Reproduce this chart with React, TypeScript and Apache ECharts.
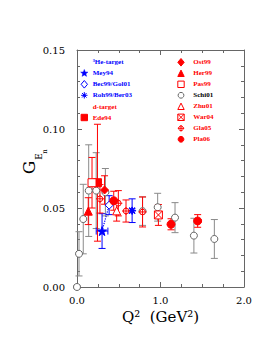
import React, { useEffect, useRef } from "react";
import * as echarts from "echarts";

// Axis ticks
const xTickLabels = ["0.0", "1.0", "2.0"];
const yTickLabels = ["0.00", "0.05", "0.10", "0.15"];

// [Q2, GEn, dGEn, dQ2]
const mey94 = [[0.3, 0.0354, 0.011, 0.07]];
const bec99 = [[0.385, 0.0518, 0.006]];
const roh99 = [[0.66, 0.0483, 0.0075]];
const ede94 = [[0.245, 0.066, 0.037]];
const ost99 = [[0.33, 0.0614, 0.009]];
const her99 = [[0.135, 0.048, 0.0085]];
const pas99 = [[0.18, 0.066, 0.016]];
const schi01 = [
  [0.0, 0.0, 0.001],
  [0.024, 0.021, 0.014],
  [0.075, 0.043, 0.022],
  [0.14, 0.061, 0.029],
  [0.23, 0.061, 0.024],
  [0.34, 0.06, 0.015],
  [0.785, 0.048, 0.009],
  [0.966, 0.0505, 0.0088],
  [1.174, 0.0439, 0.0095],
  [1.4, 0.0325, 0.011],
  [1.645, 0.0304, 0.0123],
];
const zhu01 = [[0.475, 0.0482, 0.0065]];
const war04 = [[0.975, 0.0456, 0.0066]];
const gla05 = [
  [0.275, 0.0558, 0.009],
  [0.495, 0.053, 0.008],
  [0.587, 0.0481, 0.007],
  [0.785, 0.0475, 0.0095],
];
const pla06 = [
  [0.44, 0.0546, 0.006],
  [1.126, 0.0397, 0.0035],
  [1.445, 0.0418, 0.004],
];
const golLink = [
  [0.3, 0.0354],
  [0.385, 0.0518],
];

// Legend layout (names)
const legendHe = ["Mey94", "Bec99/Gol01", "Roh99/Ber03"];
const legendD = ["Ede94"];
const legendRight = ["Ost99", "Her99", "Pas99", "Schi01", "Zhu01", "War04", "Gla05", "Pla06"];

const BLUE = "#0000ff";
const RED = "#ff0000";
const GREY = "#8a8a8a";

const STAR =
  "path://M50 0L61.76 33.82L97.55 34.55L69.02 56.18L79.39 90.45L50 70L20.61 90.45L30.98 56.18L2.45 34.55L38.24 33.82Z";
const ASTER =
  "path://M0 44H100V56H0ZM44 0H56V100H44ZM6 14L14 6L94 86L86 94ZM86 6L94 14L14 94L6 86ZM30 50A20 20 0 1 0 70 50A20 20 0 1 0 30 50Z";
const CROSSCIRC =
  "path://M15 50A35 35 0 1 0 85 50A35 35 0 1 0 15 50ZM50 0L50 100M0 50L100 50";
const XSQUARE = "path://M0 0H100V100H0ZM0 0L100 100M100 0L0 100";

type DS = {
  name: string;
  data: number[][];
  kind: string;
  symbol: string;
  size: number;
  color: string;
  fill: string;
  err: string;
  text: string;
  z: number;
};

const sets: DS[] = [
  { name: "Schi01", data: schi01, kind: "circle", symbol: "circle", size: 7, color: "#666", fill: "#fff", err: GREY, text: "#000", z: 2 },
  { name: "Mey94", data: mey94, kind: "star", symbol: STAR, size: 9, color: BLUE, fill: BLUE, err: BLUE, text: BLUE, z: 3 },
  { name: "Bec99/Gol01", data: bec99, kind: "diamond", symbol: "diamond", size: 8, color: BLUE, fill: "#fff", err: BLUE, text: BLUE, z: 3 },
  { name: "Roh99/Ber03", data: roh99, kind: "aster", symbol: ASTER, size: 7, color: BLUE, fill: BLUE, err: BLUE, text: BLUE, z: 3 },
  { name: "Ede94", data: ede94, kind: "rect", symbol: "rect", size: 8, color: RED, fill: RED, err: RED, text: RED, z: 3 },
  { name: "Ost99", data: ost99, kind: "diamond", symbol: "diamond", size: 8, color: RED, fill: RED, err: RED, text: RED, z: 3 },
  { name: "Her99", data: her99, kind: "triangle", symbol: "triangle", size: 8, color: RED, fill: RED, err: RED, text: RED, z: 3 },
  { name: "Pas99", data: pas99, kind: "rect", symbol: "rect", size: 8, color: RED, fill: "#fff", err: RED, text: RED, z: 3 },
  { name: "Zhu01", data: zhu01, kind: "triangle", symbol: "triangle", size: 8, color: RED, fill: "#fff", err: RED, text: RED, z: 3 },
  { name: "War04", data: war04, kind: "xsquare", symbol: XSQUARE, size: 8, color: RED, fill: "#fff", err: RED, text: RED, z: 3 },
  { name: "Gla05", data: gla05, kind: "crosscirc", symbol: CROSSCIRC, size: 8, color: RED, fill: "#fff", err: RED, text: RED, z: 3 },
  { name: "Pla06", data: pla06, kind: "circle", symbol: "circle", size: 8, color: RED, fill: RED, err: RED, text: RED, z: 4 },
];

const errRender = (color: string) => (params: any, api: any) => {
  const x = api.value(0);
  const y = api.value(1);
  const e = api.value(2);
  const xe = api.value(3);
  const top = api.coord([x, y + e]);
  const bot = api.coord([x, y - e]);
  const cap = 3.5;
  const style = { stroke: color, lineWidth: 1, fill: null };
  const children: any[] = [
    { type: "line", shape: { x1: top[0], y1: top[1], x2: bot[0], y2: bot[1] }, style },
    { type: "line", shape: { x1: top[0] - cap, y1: top[1], x2: top[0] + cap, y2: top[1] }, style },
    { type: "line", shape: { x1: bot[0] - cap, y1: bot[1], x2: bot[0] + cap, y2: bot[1] }, style },
  ];
  if (xe > 0) {
    const l = api.coord([x - xe, y]);
    const r = api.coord([x + xe, y]);
    children.push({ type: "line", shape: { x1: l[0], y1: l[1], x2: r[0], y2: r[1] }, style });
    children.push({ type: "line", shape: { x1: l[0], y1: l[1] - cap, x2: l[0], y2: l[1] + cap }, style });
    children.push({ type: "line", shape: { x1: r[0], y1: r[1] - cap, x2: r[0], y2: r[1] + cap }, style });
  }
  return { type: "group", children };
};

// Legend icon built from graphic primitives
const legendIcon = (s: DS, cx: number, cy: number): any[] => {
  const r = 3.2;
  const st = { fill: s.fill, stroke: s.color, lineWidth: 1 };
  const ln = { stroke: s.color, lineWidth: 1 };
  switch (s.kind) {
    case "circle":
      return [{ type: "circle", shape: { cx, cy, r: r * 0.9 }, style: st }];
    case "rect":
      return [{ type: "rect", shape: { x: cx - r, y: cy - r, width: 2 * r, height: 2 * r }, style: st }];
    case "diamond":
      return [{ type: "polygon", shape: { points: [[cx, cy - r - 0.6], [cx + r, cy], [cx, cy + r + 0.6], [cx - r, cy]] }, style: st }];
    case "triangle":
      return [{ type: "polygon", shape: { points: [[cx, cy - r], [cx + r, cy + r], [cx - r, cy + r]] }, style: st }];
    case "star": {
      const pts: number[][] = [];
      for (let k = 0; k < 10; k++) {
        const a = -Math.PI / 2 + (k * Math.PI) / 5;
        const rr = k % 2 === 0 ? r + 0.6 : (r + 0.6) * 0.42;
        pts.push([cx + rr * Math.cos(a), cy + rr * Math.sin(a)]);
      }
      return [{ type: "polygon", shape: { points: pts }, style: { fill: s.fill, stroke: s.color, lineWidth: 0.5 } }];
    }
    case "aster": {
      const out: any[] = [];
      for (let k = 0; k < 4; k++) {
        const a = (k * Math.PI) / 4;
        out.push({
          type: "line",
          shape: { x1: cx - r * Math.cos(a), y1: cy - r * Math.sin(a), x2: cx + r * Math.cos(a), y2: cy + r * Math.sin(a) },
          style: ln,
        });
      }
      out.push({ type: "circle", shape: { cx, cy, r: 1.3 }, style: { fill: s.color } });
      return out;
    }
    case "crosscirc":
      return [
        { type: "circle", shape: { cx, cy, r: r * 0.75 }, style: st },
        { type: "line", shape: { x1: cx - r, y1: cy, x2: cx + r, y2: cy }, style: ln },
        { type: "line", shape: { x1: cx, y1: cy - r, x2: cx, y2: cy + r }, style: ln },
      ];
    case "xsquare":
      return [
        { type: "rect", shape: { x: cx - r, y: cy - r, width: 2 * r, height: 2 * r }, style: st },
        { type: "line", shape: { x1: cx - r, y1: cy - r, x2: cx + r, y2: cy + r }, style: ln },
        { type: "line", shape: { x1: cx + r, y1: cy - r, x2: cx - r, y2: cy + r }, style: ln },
      ];
  }
  return [];
};

const LEGEND_FONT = 'bold 7px "Liberation Serif"';

const legendText = (text: string, x: number, y: number, fill: string) => ({
  type: "text",
  x,
  y,
  silent: true,
  style: { text, fill, font: LEGEND_FONT, align: "left", verticalAlign: "middle" },
});

const legendBlock = (names: string[], mx: number, tx: number, y0: number, step: number) => {
  const out: any[] = [];
  names.forEach((n, i) => {
    const s = sets.find((d) => d.name === n)!;
    const y = y0 + i * step;
    out.push(...legendIcon(s, mx, y));
    out.push(legendText(n, tx, y, s.text));
  });
  return out;
};

const AXIS_COLOR = "#666";

export default function App() {
  const ref = useRef<HTMLDivElement>(null);
  useEffect(() => {
    if (!ref.current) return;
    const chart = echarts.init(ref.current, null, { renderer: "svg" });

    const axisCommon = {
      axisLine: { show: true, onZero: false, lineStyle: { color: AXIS_COLOR, width: 1 } },
      axisTick: { show: true, inside: true, length: 5, lineStyle: { color: AXIS_COLOR } },
      splitLine: { show: false },
    };

    const series: any[] = [];
    sets.forEach((s) => {
      series.push({
        type: "custom",
        name: s.name + "-err",
        data: s.data,
        encode: { x: 0, y: 1 },
        renderItem: errRender(s.err),
        silent: true,
        z: 1,
      });
    });
    series.push({
      type: "line",
      name: "link",
      data: golLink,
      symbol: "none",
      lineStyle: { color: BLUE, type: "dotted", width: 1.2 },
      silent: true,
      z: 1,
    });
    sets.forEach((s) => {
      series.push({
        type: "scatter",
        name: s.name,
        data: s.data.map((d) => [d[0], d[1]]),
        symbol: s.symbol,
        symbolSize: s.size,
        itemStyle: { color: s.fill, borderColor: s.color, borderWidth: 1, opacity: 1 },
        z: s.z,
        silent: true,
      });
    });

    const graphic: any[] = [
      legendText("\u00b3He-target", 92.7, 62.3, BLUE),
      ...legendBlock(legendHe, 84.3, 92.7, 73.3, 11),
      legendText("d-target", 92.7, 106.5, RED),
      ...legendBlock(legendD, 84.3, 92.7, 117.5, 11),
      ...legendBlock(legendRight, 181, 193.3, 62.3, 11),
      {
        type: "text",
        x: 28.5,
        y: 167.5,
        rotation: Math.PI / 2,
        style: { text: "G", fill: "#000", font: '17px "DejaVu Serif"', align: "center", verticalAlign: "middle" },
      },
      {
        type: "text",
        x: 38.7,
        y: 156.5,
        rotation: Math.PI / 2,
        style: { text: "E", fill: "#000", font: '9px "DejaVu Serif"', align: "center", verticalAlign: "middle" },
      },
      {
        type: "text",
        x: 45,
        y: 151.5,
        rotation: Math.PI / 2,
        style: { text: "n", fill: "#000", font: '7px "DejaVu Serif"', align: "center", verticalAlign: "middle" },
      },
    ];

    chart.setOption({
      animation: false,
      grid: { left: 77, right: 29, top: 50, bottom: 66 },
      xAxis: [
        {
          type: "value",
          position: "bottom",
          min: 0,
          max: 2,
          interval: 1,
          ...axisCommon,
          minorTick: { show: true, splitNumber: 4, length: 3, lineStyle: { color: AXIS_COLOR } },
          axisLabel: {
            margin: 8,
            color: "#000",
            fontFamily: "DejaVu Serif",
            fontSize: 10,
            formatter: (v: number) => xTickLabels[Math.round(v)] ?? "",
          },
          name: "Q\u00b2  (GeV\u00b2)",
          nameLocation: "middle",
          nameGap: 16,
          nameTextStyle: { fontFamily: "DejaVu Serif", fontSize: 15, color: "#000", verticalAlign: "top" },
        },
        {
          type: "value",
          position: "top",
          min: 0,
          max: 2,
          interval: 1,
          ...axisCommon,
          minorTick: { show: true, splitNumber: 4, length: 3, lineStyle: { color: AXIS_COLOR } },
          axisLabel: { show: false },
        },
      ],
      yAxis: [
        {
          type: "value",
          position: "left",
          min: 0,
          max: 0.15,
          interval: 0.05,
          ...axisCommon,
          minorTick: { show: true, splitNumber: 5, length: 3, lineStyle: { color: AXIS_COLOR } },
          axisLabel: {
            margin: 12,
            color: "#000",
            fontFamily: "DejaVu Serif",
            fontSize: 10,
            formatter: (v: number) => yTickLabels[Math.round(v / 0.05)] ?? "",
          },
        },
        {
          type: "value",
          position: "right",
          min: 0,
          max: 0.15,
          interval: 0.05,
          ...axisCommon,
          minorTick: { show: true, splitNumber: 5, length: 3, lineStyle: { color: AXIS_COLOR } },
          axisLabel: { show: false },
        },
      ],
      graphic,
      series,
    });
    return () => chart.dispose();
  }, []);
  return (
    <div
      ref={ref}
      style={{ position: "absolute", left: 0, top: 0, width: 273, height: 353, background: "#fff" }}
    />
  );
}
